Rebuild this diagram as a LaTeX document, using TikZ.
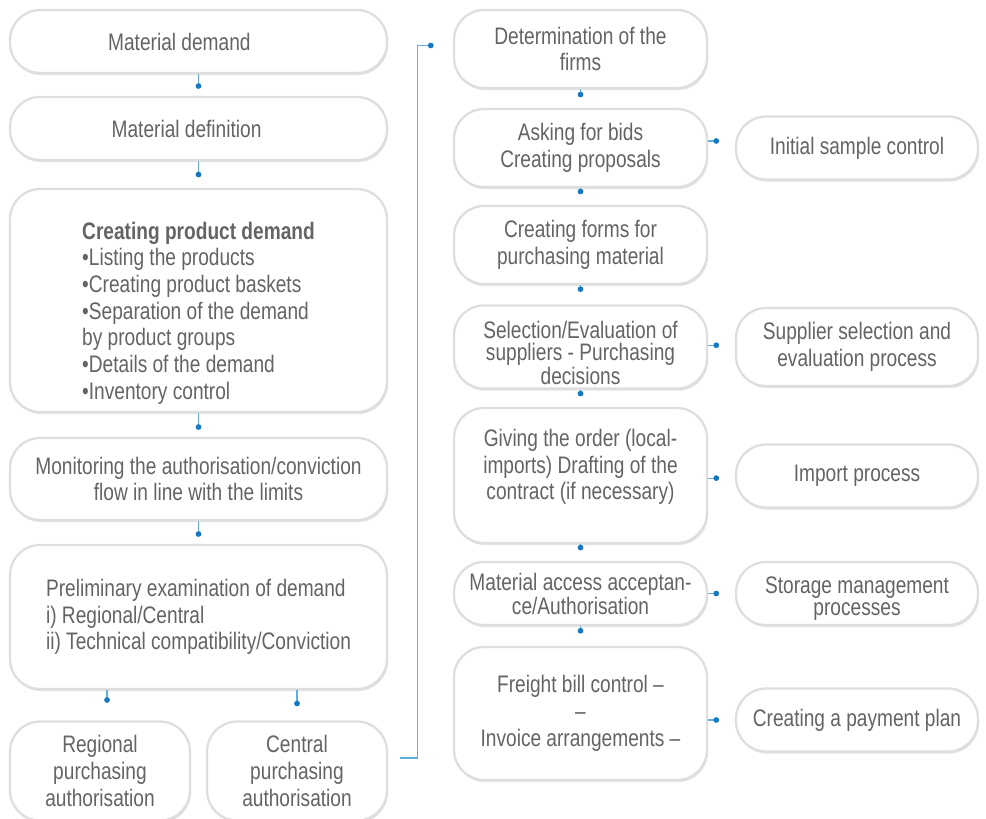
\documentclass[tikz,border=0pt]{standalone}
\usepackage{fontspec}
\setmainfont{Liberation Sans}[FakeStretch=0.8]
\usepackage{tikz}
\usetikzlibrary{shapes,arrows.meta,positioning,shadows,fit}
\definecolor{textgray}{RGB}{100,100,100}
\definecolor{lineblue}{RGB}{95,175,225}
\definecolor{dotblue}{RGB}{20,120,195}

\begin{document}
\begin{tikzpicture}[x=0.02cm,y=-0.02cm,
	boxstyle/.style={rectangle,rounded corners=0.6cm,draw=black!13,line width=1.3pt,fill=white,
		drop shadow={opacity=0.22,shadow xshift=0.6pt,shadow yshift=-1.2pt},
		text=textgray,align=center,inner sep=2pt,font=\fontsize{13.6}{15.2}\selectfont},
	wide/.style={boxstyle,minimum width=7.54cm},
	mid/.style={boxstyle,minimum width=5.06cm},
	side/.style={boxstyle,minimum width=4.84cm,minimum height=1.26cm},
	small/.style={boxstyle,minimum width=3.6cm,minimum height=1.98cm},
	link/.style={draw=lineblue,line width=0.7pt,-{Circle[length=3.2pt,color=dotblue]}}]
\clip (0,0) rectangle (986,818);
% left column
\node[wide,minimum height=1.26cm] (demand) at (198.5,41.5) {Material demand\hspace{1.6em}};
\node[wide,minimum height=1.26cm] (definition) at (198.5,128.5) {Material definition\hspace{1em}};
\node[wide,minimum height=4.46cm,align=left] (product) at (198.5,300.5)
	{\mbox{}\\[9pt]\textbf{Creating product demand}\\•Listing the products\\•Creating product baskets\\•Separation of the demand\\by product groups\\•Details of the demand\\•Inventory control};
\node[wide,minimum height=1.64cm] (monitor) at (198.5,479) {Monitoring the authorisation/conviction\\flow in line with the limits};
\node[wide,minimum height=2.88cm,align=left] (prelim) at (198.5,617)
	{Preliminary examination of demand\\i) Regional/Central\\ii) Technical compatibility/Conviction};
\node[small] (regional) at (100,771) {Regional\\purchasing\\authorisation};
\node[small] (central) at (297,771) {Central\\purchasing\\authorisation};
% middle column
\node[mid,minimum height=1.56cm] (firms) at (580.5,49) {Determination of the\\firms};
\node[mid,minimum height=1.56cm] (bids) at (580.5,148) {Asking for bids\\Creating proposals};
\node[mid,minimum height=1.56cm] (forms) at (580.5,245) {Creating forms for\\purchasing material};
\node[mid,minimum height=1.56cm,font=\fontsize{13.6}{12.5}\selectfont] (select) at (580.5,347)
	{\rule{0pt}{17pt}Selection/Evaluation of\\suppliers - Purchasing\\decisions};
\node[mid,minimum height=2.7cm] (order) at (580.5,475.5)
	{Giving the order (local-\\imports) Drafting of the\\contract (if necessary)\\[-2.7pt]};
\node[mid,minimum height=1.26cm,font=\fontsize{13.6}{12.5}\selectfont] (access) at (580.5,593.5)
	{Material access acceptan-\\ce/Authorisation};
\node[mid,minimum height=2.66cm] (freight) at (580.5,713.5)
	{Freight bill control –\\–\\Invoice arrangements –};
% right column
\node[side] (sample) at (857,148) {Initial sample control};
\node[side,minimum height=1.56cm] (supplier) at (857,347) {Supplier selection and\\evaluation process};
\node[side] (import) at (857,476) {Import process};
\node[side,font=\fontsize{13.6}{12.5}\selectfont] (storage) at (857,593.5) {\rule{0pt}{15pt}Storage management\\processes};
\node[side] (payment) at (857,720) {Creating a payment plan};
% connectors
\draw[link] (demand.south) -- ([yshift=4pt]definition.north);
\draw[link] (definition.south) -- ([yshift=6pt]product.north);
\draw[link] (product.south) -- ([yshift=4pt]monitor.north);
\draw[link] (monitor.south) -- ([yshift=4pt]prelim.north);
\draw[link] ([xshift=4pt]regional.north |- prelim.south) -- ([xshift=4pt,yshift=10pt]regional.north);
\draw[link] (prelim.south -| central.north) -- ([yshift=8pt]central.north);
\draw[link] ([xshift=7pt,yshift=7.4pt]central.east) -- ++(17,0) |- ([xshift=-11pt,yshift=2pt]firms.west);
\draw[link] (firms.south) -- ([yshift=6pt]bids.north);
\draw[link] (bids.south) -- ([yshift=6pt]forms.north);
\draw[link] (forms.south) -- ([yshift=7pt]select.north);
\draw[link] (select.south) -- ([yshift=6pt]order.north);
\draw[link] (order.south) -- ([yshift=6pt]access.north);
\draw[link] (access.south) -- ([yshift=7pt]freight.north);
\draw[link,shorten >=9pt] ([yshift=4pt]bids.east) -- ([yshift=4pt]bids.east -| sample.west);
\draw[link,shorten >=9pt] ([yshift=1pt]select.east) -- ([yshift=1pt]select.east -| supplier.west);
\draw[link,shorten >=9pt] ([yshift=-1.5pt]order.east) -- ([yshift=-1.5pt]order.east -| import.west);
\draw[link,shorten >=9pt] (access.east) -- (access.east -| storage.west);
\draw[link,shorten >=9pt] (payment.west -| freight.east) -- (payment.west);
\end{tikzpicture}
\end{document}
